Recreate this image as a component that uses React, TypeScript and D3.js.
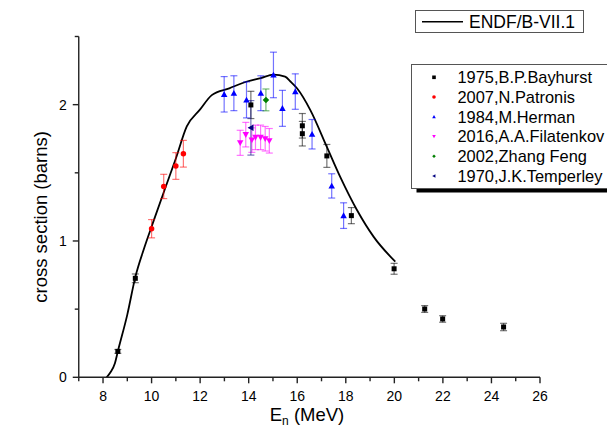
import React from "react";
import * as d3 from "d3";

// ENDF/B-VII.1 evaluated curve (E MeV, sigma barns)
const endfE = [8.15, 8.3, 8.49, 8.61, 9.0, 9.33, 9.7, 10.0, 10.56, 11.0, 11.45, 12.0, 12.48, 13.2, 13.93, 14.5, 15.02, 15.5, 15.72, 15.99, 16.54, 17.22, 17.77, 18.46, 19.15, 20.04];
const endfS = [0.0, 0.035, 0.103, 0.19, 0.46, 0.735, 0.95, 1.105, 1.387, 1.605, 1.84, 1.965, 2.07, 2.12, 2.17, 2.195, 2.22, 2.205, 2.17, 2.12, 1.96, 1.69, 1.47, 1.227, 1.03, 0.848];

// 1975, B.P.Bayhurst
const bayE = [8.61, 9.33, 14.09, 16.21, 16.21, 17.22, 18.23, 19.99, 21.25, 21.99, 24.5];
const bayS = [0.19, 0.726, 1.998, 1.845, 1.787, 1.624, 1.186, 0.796, 0.501, 0.428, 0.369];
const bayErr = [0.014, 0.032, 0.1, 0.09, 0.09, 0.084, 0.059, 0.04, 0.025, 0.024, 0.027];

// 2007, N.Patronis
const patE = [10.0, 10.5, 11.0, 11.31];
const patS = [1.09, 1.4, 1.55, 1.64];
const patErr = [0.067, 0.089, 0.098, 0.098];

// 1984, M.Herman
const herE = [12.99, 13.39, 13.91, 14.5, 15.02, 15.39, 15.92, 16.61, 17.42, 17.91];
const herS = [2.076, 2.084, 2.035, 2.084, 2.218, 1.973, 2.096, 1.783, 1.404, 1.186];
const herErr = [0.13, 0.128, 0.132, 0.128, 0.167, 0.132, 0.13, 0.108, 0.089, 0.094];

// 2016, A.A.Filatenkov
const filE = [13.65, 13.88, 14.13, 14.28, 14.49, 14.68, 14.85];
const filS = [1.72, 1.78, 1.74, 1.76, 1.76, 1.75, 1.735];
const filErr = [0.092, 0.09, 0.09, 0.09, 0.09, 0.09, 0.09];

// 2002, Zhang Feng
const zhaE = [14.71];
const zhaS = [2.035];
const zhaErr = [0.08];

// 1970, J.K.Temperley
const temE = [14.09];
const temS = [1.83];
const temErr = [0.2];

const xMajor = [8, 10, 12, 14, 16, 18, 20, 22, 24, 26];
const xMinor = [7, 9, 11, 13, 15, 17, 19, 21, 23, 25];
const yMajor = [0, 1, 2];
const yMinor = [0.5, 1.5, 2.5];

type Shape = "square" | "circle" | "up" | "down" | "diamond" | "left";

const seriesList: { name: string; E: number[]; S: number[]; err: number[]; color: string; shape: Shape }[] = [
  { name: "1975,B.P.Bayhurst", E: bayE, S: bayS, err: bayErr, color: "#000000", shape: "square" },
  { name: "2007,N.Patronis", E: patE, S: patS, err: patErr, color: "#ff0000", shape: "circle" },
  { name: "1984,M.Herman", E: herE, S: herS, err: herErr, color: "#0000ff", shape: "up" },
  { name: "2016,A.A.Filatenkov", E: filE, S: filS, err: filErr, color: "#ff00ff", shape: "down" },
  { name: "2002,Zhang Feng", E: zhaE, S: zhaS, err: zhaErr, color: "#008000", shape: "diamond" },
  { name: "1970,J.K.Temperley", E: temE, S: temS, err: temErr, color: "#000080", shape: "left" },
];

const font = "Arial, 'Liberation Sans', Helvetica, sans-serif";

function marker(shape: Shape, cx: number, cy: number, s: number, color: string, key: string) {
  const h = s / 2;
  switch (shape) {
    case "square":
      return <rect key={key} x={cx - h} y={cy - h} width={s} height={s} fill={color} />;
    case "circle":
      return <circle key={key} cx={cx} cy={cy} r={h} fill={color} />;
    case "up":
      return <path key={key} d={`M${cx},${cy - h}L${cx + h},${cy + h * 0.8}L${cx - h},${cy + h * 0.8}Z`} fill={color} />;
    case "down":
      return <path key={key} d={`M${cx},${cy + h}L${cx + h},${cy - h * 0.8}L${cx - h},${cy - h * 0.8}Z`} fill={color} />;
    case "diamond":
      return <path key={key} d={`M${cx},${cy - h}L${cx + h},${cy}L${cx},${cy + h}L${cx - h},${cy}Z`} fill={color} />;
    case "left":
      return <path key={key} d={`M${cx - h},${cy}L${cx + h * 0.8},${cy - h}L${cx + h * 0.8},${cy + h}Z`} fill={color} />;
  }
}

export default function App() {
  const W = 607;
  const H = 434;
  const x = d3.scaleLinear().domain([7, 26]).range([78.75, 540]);
  const y = d3.scaleLinear().domain([0, 2.5]).range([377.3, 36.5]);

  const line = d3
    .line<number>()
    .x((_, i) => x(endfE[i]))
    .y((d) => y(d))
    .curve(d3.curveMonotoneX);

  const x0 = x.range()[0];
  const y0 = y.range()[0];
  const cap = 3.5;

  return (
    <svg width={W} height={H} style={{ position: "absolute", left: 0, top: 0, background: "#fff" }} fontFamily={font}>
      <rect x={0} y={0} width={W} height={H} fill="#fff" />
      {/* ENDF curve */}
      <path d={line(endfS) || ""} fill="none" stroke="#000" strokeWidth={1.8} />

      {/* error bars */}
      {seriesList.map((s) =>
        s.E.map((e, i) => {
          const cx = x(e);
          const yt = y(s.S[i] + s.err[i]);
          const yb = y(s.S[i] - s.err[i]);
          return (
            <g key={s.name + "e" + i} stroke={s.color} strokeOpacity={0.55} strokeWidth={1.2}>
              <line x1={cx} x2={cx} y1={yt} y2={yb} />
              <line x1={cx - cap} x2={cx + cap} y1={yt} y2={yt} />
              <line x1={cx - cap} x2={cx + cap} y1={yb} y2={yb} />
            </g>
          );
        })
      )}
      {/* markers */}
      {seriesList.map((s) =>
        s.E.map((e, i) => marker(s.shape, x(e), y(s.S[i]), s.shape === "square" ? 5 : s.shape === "circle" ? 5.5 : 6.5, s.color, s.name + "m" + i))
      )}

      {/* axes */}
      <g stroke="#222" strokeWidth={1.4}>
        <line x1={x0} x2={x(26)} y1={y0} y2={y0} />
        <line x1={x0} x2={x0} y1={y0} y2={y(2.5)} />
        {xMajor.map((t) => (
          <line key={"xM" + t} x1={x(t)} x2={x(t)} y1={y0} y2={y0 + 6} />
        ))}
        {xMinor.map((t) => (
          <line key={"xm" + t} x1={x(t)} x2={x(t)} y1={y0} y2={y0 + 4} />
        ))}
        {yMajor.map((t) => (
          <line key={"yM" + t} x1={x0} x2={x0 - 6} y1={y(t)} y2={y(t)} />
        ))}
        {yMinor.map((t) => (
          <line key={"ym" + t} x1={x0} x2={x0 - 4} y1={y(t)} y2={y(t)} />
        ))}
      </g>
      {xMajor.map((t) => (
        <text key={"xt" + t} x={x(t)} y={y0 + 23.5} fontSize={14} textAnchor="middle" fill="#000">
          {t}
        </text>
      ))}
      {yMajor.map((t) => (
        <text key={"yt" + t} x={x0 - 12} y={y(t) + 5} fontSize={14} textAnchor="end" fill="#000">
          {t}
        </text>
      ))}
      <text x={307} y={421} fontSize={18.5} textAnchor="middle" fill="#000">
        E<tspan fontSize={12} dy={4}>n</tspan>
        <tspan dy={-4}> (MeV)</tspan>
      </text>
      <text transform={`translate(46.5,${(y0 + y(2.5)) / 2 + 10}) rotate(-90)`} fontSize={18.5} textAnchor="middle" fill="#000">
        cross section (barns)
      </text>

      {/* legend 1 */}
      <rect x={415.5} y={10.5} width={168} height={22} fill="#fff" stroke="#555" strokeWidth={1} />
      <line x1={422} x2={463} y1={21.7} y2={21.7} stroke="#000" strokeWidth={1.5} />
      <text x={469} y={28} fontSize={17.5} fill="#000">
        ENDF/B-VII.1
      </text>

      {/* legend 2 */}
      <rect x={416.5} y={68.5} width={200} height={124} fill="#000" />
      <rect x={411.5} y={64.5} width={200} height={124} fill="#fff" stroke="#555" strokeWidth={1} />
      {seriesList.map((s, i) => {
        const cy = 77.3 + i * 19.75;
        return (
          <g key={"lg" + i}>
            {marker(s.shape, 434, cy, 3.6, s.color, "lgm" + i)}
            <text x={457.5} y={cy + 5.8} fontSize={16.4} fill="#000">
              {s.name}
            </text>
          </g>
        );
      })}
    </svg>
  );
}
